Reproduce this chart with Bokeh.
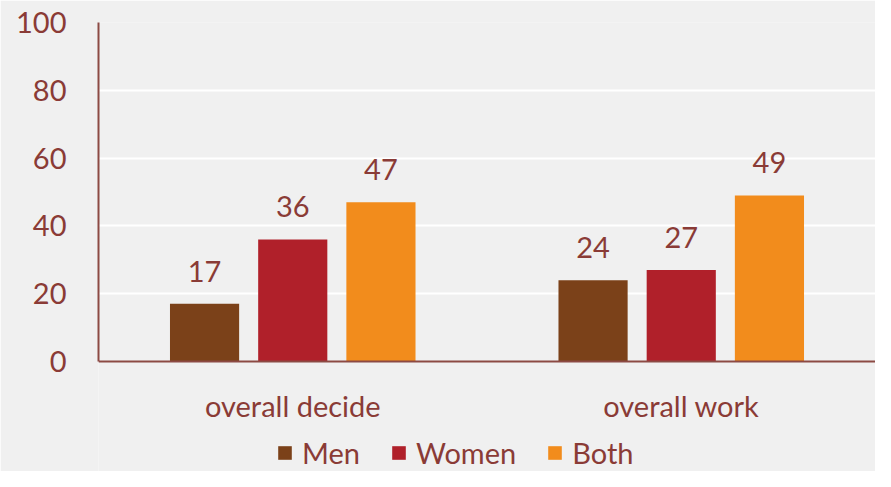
from bokeh.plotting import figure
from bokeh.models import (ColumnDataSource, FactorRange, Range1d, Legend, LegendItem, LabelSet,
                          FixedTicker, CategoricalAxis)
from bokeh.core.properties import value
from bokeh.transform import dodge
from bokeh.embed import file_html
from bokeh.resources import INLINE

categories = ["overall decide", "overall work"]
men = [17, 24]
women = [36, 27]
both = [47, 49]
series_names = ["Men", "Women", "Both"]
y_ticks = [0, 20, 40, 60, 80, 100]

BG = "#f0f0f0"
TXT = "#8a3b36"
AX = "#8c4a44"
FONT = "Lato"
FS = "29px"
colors = ["#7b4119", "#b0202a", "#f28c1c"]

src = ColumnDataSource(dict(cat=categories, Men=men, Women=women, Both=both,
                            Men_s=[str(v) for v in men], Women_s=[str(v) for v in women],
                            Both_s=[str(v) for v in both]))

TOP = 22
H = 471
ZERO_PX = 361
px_per_unit = (ZERO_PX - TOP) / 100.0
y_start = -(H - ZERO_PX) / px_per_unit

p = figure(width=875, height=H, x_range=FactorRange(*categories, range_padding=0),
           y_range=Range1d(y_start, 100), output_backend="svg", toolbar_location=None,
           x_axis_location=None,
           min_border_left=98, min_border_right=0, min_border_top=TOP, min_border_bottom=0)
p.background_fill_color = BG
p.border_fill_color = BG
p.outline_line_color = None

offsets = [-0.227, 0.0, 0.227]
renderers = []
for name, col, off in zip(series_names, colors, offsets):
    r = p.vbar(x=dodge("cat", off, range=p.x_range), top=name, width=0.178, source=src,
               fill_color=col, line_color=None)
    renderers.append(r)
    lbl = LabelSet(x=dodge("cat", off, range=p.x_range), y=name, text=name + "_s", source=src,
                   text_align="center", text_baseline="alphabetic", y_offset=22,
                   text_font=value(FONT), text_font_size=FS, text_color=TXT)
    p.add_layout(lbl)

xaxis = CategoricalAxis(fixed_location=0)
xaxis.major_tick_line_color = None
xaxis.minor_tick_line_color = None
xaxis.axis_line_color = AX
xaxis.axis_line_width = 2
xaxis.major_label_text_font = FONT
xaxis.major_label_text_font_size = FS
xaxis.major_label_text_color = TXT
xaxis.major_label_standoff = 20
p.add_layout(xaxis, "below")

p.yaxis.ticker = FixedTicker(ticks=y_ticks)
p.yaxis.bounds = (0, 100)
p.yaxis.major_tick_line_color = None
p.yaxis.minor_tick_line_color = None
p.yaxis.axis_line_color = AX
p.yaxis.axis_line_width = 2
p.yaxis.major_label_text_font = FONT
p.yaxis.major_label_text_font_size = FS
p.yaxis.major_label_text_color = TXT
p.yaxis.major_label_standoff = 26

p.xgrid.grid_line_color = None
p.ygrid.ticker = FixedTicker(ticks=y_ticks[1:])
p.ygrid.grid_line_color = "white"
p.ygrid.grid_line_width = 2

legend = Legend(items=[LegendItem(label=n, renderers=[r]) for n, r in zip(series_names, renderers)],
                orientation="horizontal", location=(178, 1),
                background_fill_alpha=0, border_line_color=None,
                label_text_font=FONT, label_text_font_size=FS, label_text_color=TXT,
                glyph_width=17, glyph_height=17, label_standoff=9, spacing=30,
                padding=0, margin=0)
p.add_layout(legend, "center")

open("out.html", "w").write(file_html(p, INLINE))
